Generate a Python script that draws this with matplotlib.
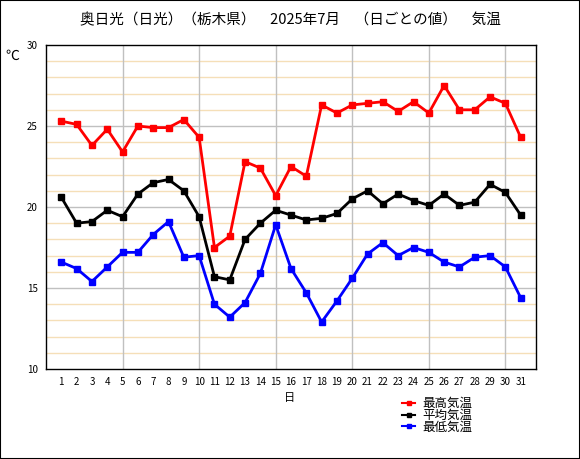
import matplotlib
matplotlib.use('Agg')
import matplotlib.pyplot as plt
from matplotlib.patches import Rectangle

plt.rcParams['font.family'] = ['Noto Sans CJK JP', 'DejaVu Sans']

days = list(range(1, 32))
t_max = [25.3, 25.1, 23.8, 24.8, 23.4, 25.0, 24.9, 24.9, 25.4, 24.3,
         17.5, 18.2, 22.8, 22.4, 20.7, 22.5, 21.9, 26.3, 25.8, 26.3,
         26.4, 26.5, 25.9, 26.5, 25.8, 27.5, 26.0, 26.0, 26.8, 26.4, 24.3]
t_mean = [20.6, 19.0, 19.1, 19.8, 19.4, 20.8, 21.5, 21.7, 21.0, 19.4,
          15.7, 15.5, 18.0, 19.0, 19.8, 19.5, 19.2, 19.3, 19.6, 20.5,
          21.0, 20.2, 20.8, 20.4, 20.1, 20.8, 20.1, 20.3, 21.4, 20.9, 19.5]
t_min = [16.6, 16.2, 15.4, 16.3, 17.2, 17.2, 18.3, 19.1, 16.9, 17.0,
         14.0, 13.2, 14.1, 15.9, 18.9, 16.2, 14.7, 12.9, 14.2, 15.6,
         17.1, 17.8, 17.0, 17.5, 17.2, 16.6, 16.3, 16.9, 17.0, 16.3, 14.4]

W, H = 580, 459
fig = plt.figure(figsize=(W / 100, H / 100), dpi=100)
ax = fig.add_axes([46 / W, 1 - 369 / H, 490 / W, 324 / H])

ax.set_xlim(0, 32)
ax.set_ylim(10, 30)

# grid lines
for v in range(11, 30):
    if v % 5 != 0:
        ax.axhline(v, color='#f5dfb8', lw=1, zorder=0)
for v in (15, 20, 25):
    ax.axhline(v, color='#c0c0c0', lw=1, zorder=0)
for d in (5, 10, 15, 20, 25, 30):
    ax.axvline(d, color='#c0c0c0', lw=1, zorder=0)

l1, = ax.plot(days, t_max, color='#ff0000', lw=2, marker='s', ms=5, label='最高気温')
l2, = ax.plot(days, t_mean, color='#000000', lw=2, marker='s', ms=5, label='平均気温')
l3, = ax.plot(days, t_min, color='#0000ff', lw=2, marker='s', ms=5, label='最低気温')

ax.set_xticks(days)
ax.set_xticklabels([str(d) for d in days], fontsize=7)
ax.set_yticks([10, 15, 20, 25, 30])
ax.set_yticklabels(['10', '15', '20', '25', '30'], fontsize=7)
ax.tick_params(length=0, pad=6)
for s in ax.spines.values():
    s.set_color('black')
    s.set_linewidth(1)

fig.text(290 / W, 1 - 20 / H, '奥日光（日光）（栃木県）　2025年7月　（日ごとの値）　気温',
         ha='center', va='center', fontsize=10.5)
fig.text(12 / W, 1 - 56 / H, '℃', ha='center', va='center', fontsize=10)
fig.text(290 / W, 1 - 398 / H, '日', ha='center', va='center', fontsize=8)

leg = fig.legend(handles=[l1, l2, l3], loc='upper left',
                 bbox_to_anchor=(396 / W, 1 - 391 / H), frameon=False,
                 fontsize=9, handlelength=1.0, handletextpad=0.6,
                 labelspacing=-0.1, borderpad=0)
for h in leg.legend_handles:
    h.set_linewidth(1.5)
    h.set_markersize(2.5)

fig.patches.append(Rectangle((0, 0), 1, 1, transform=fig.transFigure,
                             fill=False, edgecolor='black', lw=1.5))

fig.savefig('out.png', dpi=100)
